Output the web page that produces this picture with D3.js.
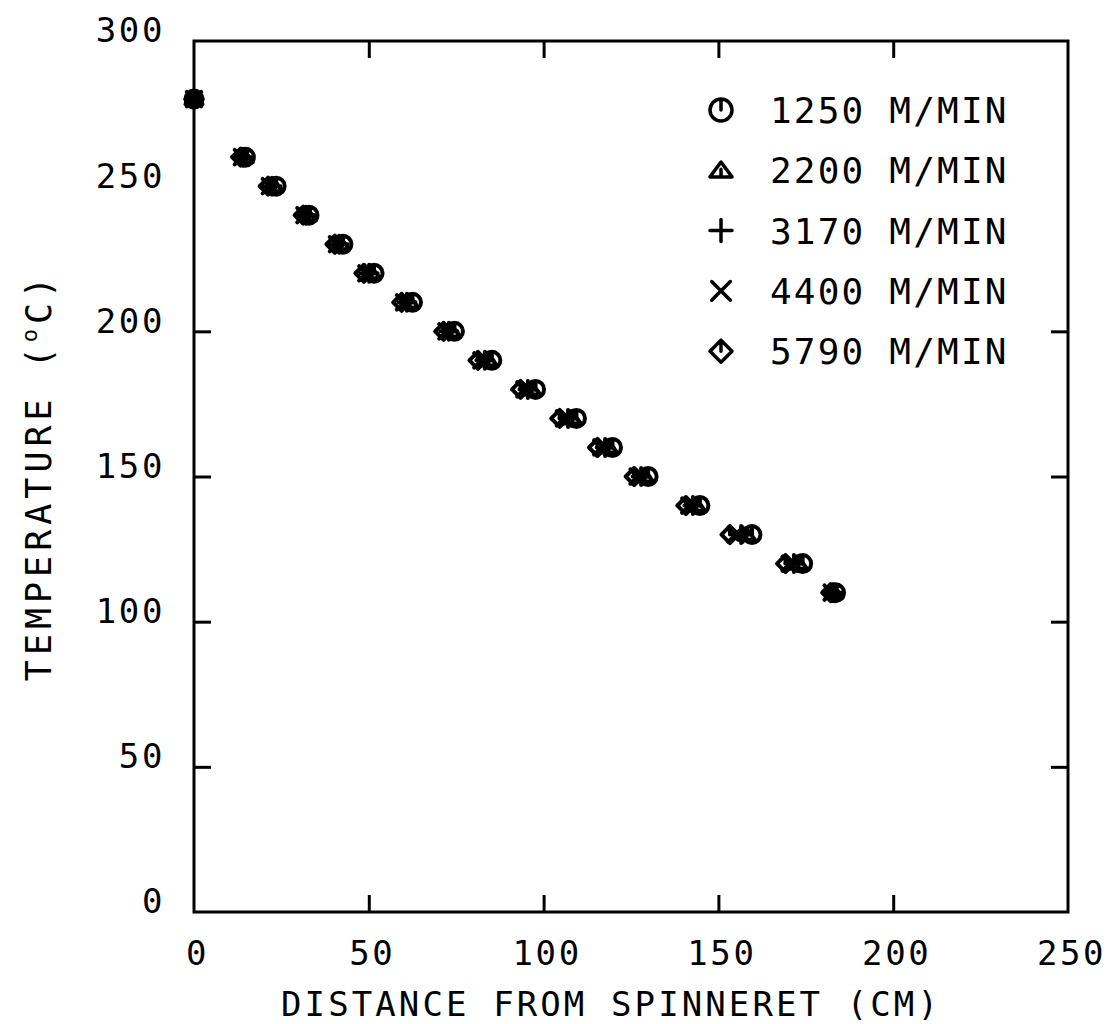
<!DOCTYPE html>
<html>
<head>
<meta charset="utf-8">
<script src="https://cdn.jsdelivr.net/npm/d3@7"></script>
<style>
  body { margin: 0; background: #fff; }
  text { font-family: "DejaVu Sans Mono", monospace; fill: #000; }
</style>
</head>
<body>
<div id="chart"></div>
<script>
// data
const temps = [280, 260, 250, 240, 230, 220, 210, 200, 190, 180, 170, 160, 150, 140, 130, 120, 110];
const dist1250 = [0, 14.7, 23.5, 32.9, 42.6, 51.5, 62.5, 74.5, 85.2, 97.7, 109.4, 119.7, 129.9, 144.7, 159.6, 174.1, 183.5];
const dist2200 = [0, 14.4, 22.9, 32.5, 42.0, 50.8, 61.7, 73.7, 84.2, 96.6, 108.2, 118.6, 128.9, 143.7, 158.0, 172.9, 183.1];
const dist3170 = [0, 14.0, 22.3, 32.0, 41.5, 50.1, 60.9, 72.9, 83.2, 95.5, 107.0, 117.6, 127.9, 142.7, 156.5, 171.6, 182.8];
const dist4400 = [0, 13.7, 21.7, 31.6, 40.9, 49.3, 60.1, 72.2, 82.2, 94.5, 105.8, 116.5, 126.9, 141.7, 154.9, 170.4, 182.4];
const dist5790 = [0, 13.3, 21.2, 31.2, 40.3, 48.6, 59.4, 71.4, 81.2, 93.4, 104.6, 115.4, 125.9, 140.7, 153.3, 169.2, 182.1];
const seriesNames = ["1250 M/MIN", "2200 M/MIN", "3170 M/MIN", "4400 M/MIN", "5790 M/MIN"];
const seriesShapes = ["circle", "triangle", "plus", "cross", "diamond"];
const xTicks = [0, 50, 100, 150, 200, 250];
const yTicks = [0, 50, 100, 150, 200, 250, 300];

const series = [dist1250, dist2200, dist3170, dist4400, dist5790].map((d, i) => ({
  name: seriesNames[i],
  shape: seriesShapes[i],
  points: d.map((x, j) => ({x: x, y: temps[j]}))
}));

// layout
const W = 1111, H = 1024;
const margin = {top: 41, right: 43, bottom: 112, left: 194};
const width = W - margin.left - margin.right;
const height = H - margin.top - margin.bottom;

const svg = d3.select("#chart").append("svg")
  .attr("width", W).attr("height", H);
const g = svg.append("g")
  .attr("transform", `translate(${margin.left},${margin.top})`);

const x = d3.scaleLinear().domain([0, 250]).range([0, width]);
const y = d3.scaleLinear().domain([0, 300]).range([height, 0]);

// marker paths (plotter style symbols)
function markerPath(shape, r) {
  switch (shape) {
    case "circle":
      return `M${r},0A${r},${r} 0 1,1 ${-r},0A${r},${r} 0 1,1 ${r},0M0,0V${-r}`;
    case "triangle":
      return `M${-r},${r * 0.6}L${r},${r * 0.6}L0,${-r * 0.75}Z M0,${r * 0.6}V${-r * 0.1}`;
    case "plus":
      return `M${-r},0H${r}M0,${-r}V${r}`;
    case "cross":
      return `M${-r * 0.85},${-r * 0.85}L${r * 0.85},${r * 0.85}M${-r * 0.85},${r * 0.85}L${r * 0.85},${-r * 0.85}`;
    case "diamond":
      return `M${-r},0L0,${-r}L${r},0L0,${r}Z M0,0V${-r}`;
  }
}

// frame
g.append("rect")
  .attr("width", width).attr("height", height)
  .attr("fill", "none").attr("stroke", "#000").attr("stroke-width", 3);

const tickLen = 17;
const styleAxis = sel => {
  sel.select(".domain").remove();
  sel.selectAll("line").attr("stroke", "#000").attr("stroke-width", 3);
};

// bottom axis
g.append("g")
  .attr("transform", `translate(0,${height})`)
  .call(d3.axisBottom(x).tickValues(xTicks).tickSizeInner(-tickLen).tickSizeOuter(0).tickPadding(29))
  .call(styleAxis)
  .selectAll("text")
  .attr("font-size", 34).attr("letter-spacing", 2.6)
  .attr("dx", 3)
  .style("font-family", "DejaVu Sans Mono");

// top axis (ticks only)
g.append("g")
  .call(d3.axisTop(x).tickValues(xTicks).tickSizeInner(-tickLen).tickSizeOuter(0).tickFormat(""))
  .call(styleAxis);

// left axis
g.append("g")
  .call(d3.axisLeft(y).tickValues(yTicks).tickSizeInner(-tickLen).tickSizeOuter(0).tickPadding(29))
  .call(styleAxis)
  .selectAll("text")
  .attr("font-size", 34).attr("letter-spacing", 2.6)
  .attr("y", -10)
  .style("font-family", "DejaVu Sans Mono");

// right axis (ticks only)
g.append("g")
  .attr("transform", `translate(${width},0)`)
  .call(d3.axisRight(y).tickValues(yTicks).tickSizeInner(-tickLen).tickSizeOuter(0).tickFormat(""))
  .call(styleAxis);

// remove ticks that sit on the frame corners
g.selectAll(".tick").filter(d => d === 0 || d === 250 || d === 300).select("line").remove();

// axis titles
svg.append("text")
  .attr("x", margin.left + width / 2 - 20)
  .attr("y", 1016)
  .attr("text-anchor", "middle")
  .attr("font-size", 34).attr("letter-spacing", 3.1)
  .text("DISTANCE FROM SPINNERET (CM)");

const yTitle = svg.append("text")
  .attr("transform", `translate(51,${margin.top + height / 2}) rotate(-90)`)
  .attr("text-anchor", "middle")
  .attr("font-size", 35).attr("letter-spacing", 5);
yTitle.append("tspan").text("TEMPERATURE (");
yTitle.append("tspan").attr("font-size", 22).attr("dy", -14).text("o");
yTitle.append("tspan").attr("dy", 14).text("C)");

// data markers
const layer = g.append("g");
series.forEach(s => {
  layer.selectAll(null)
    .data(s.points)
    .enter().append("path")
    .attr("transform", d => `translate(${x(d.x)},${y(d.y)})`)
    .attr("d", markerPath(s.shape, 8.5))
    .attr("fill", "none")
    .attr("stroke", "#000")
    .attr("stroke-width", 4)
    .attr("stroke-linecap", "round")
    .attr("stroke-linejoin", "round");
});

// legend
const legend = svg.append("g").attr("transform", "translate(721,110)");
const rowGap = 60.3;
const rows = legend.selectAll("g").data(series).enter().append("g")
  .attr("transform", (d, i) => `translate(0,${i * rowGap})`);
rows.append("path")
  .attr("d", d => markerPath(d.shape, 11))
  .attr("fill", "none")
  .attr("stroke", "#000")
  .attr("stroke-width", 3.5)
  .attr("stroke-linecap", "round")
  .attr("stroke-linejoin", "round");
rows.append("text")
  .attr("x", 49)
  .attr("y", 13)
  .attr("font-size", 36).attr("letter-spacing", 2.2)
  .text(d => d.name);
</script>
</body>
</html>
